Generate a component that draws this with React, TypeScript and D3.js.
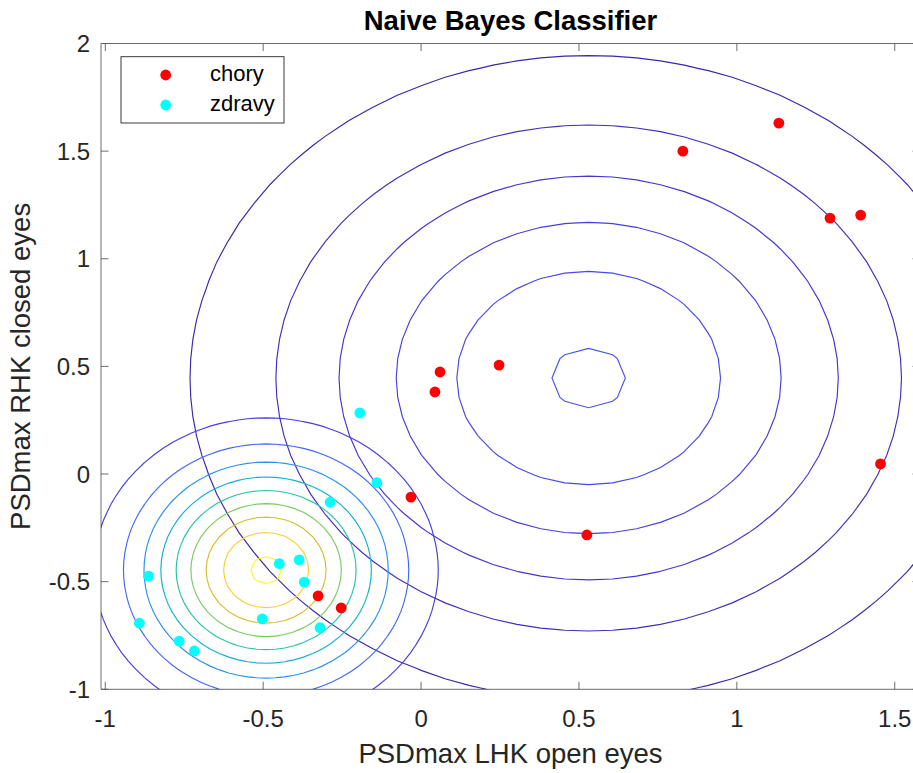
import React from 'react';
import * as d3 from 'd3';

// ---- data ----
const classNames = ['chory', 'zdravy'];
const classColors = ['#ff0000', '#00ffff'];

const choryX = [0.829, 1.133, 1.295, 1.392, 0.247, 0.06, 0.044, -0.032, 0.525, 1.455, -0.326, -0.253];
const choryY = [1.5, 1.63, 1.189, 1.203, 0.506, 0.474, 0.381, -0.107, -0.283, 0.047, -0.566, -0.622];

const zdravyX = [-0.194, -0.14, -0.288, -0.449, -0.386, -0.37, -0.863, -0.503, -0.32, -0.892, -0.766, -0.718];
const zdravyY = [0.284, -0.04, -0.131, -0.416, -0.399, -0.502, -0.474, -0.673, -0.714, -0.693, -0.776, -0.822];

const xTicks = [-1, -0.5, 0, 0.5, 1, 1.5];
const yTicks = [-1, -0.5, 0, 0.5, 1, 1.5, 2];
const xLim = [-1.0136, 1.58];
const yLim = [-1, 2];

const titleText = 'Naive Bayes Classifier';
const xLabelText = 'PSDmax LHK open eyes';
const yLabelText = 'PSDmax RHK closed eyes';

// parula colormap stops
const PARULA = [
  [0.2422, 0.1504, 0.6603], [0.2706, 0.2147, 0.8364], [0.2813, 0.3006, 0.9414],
  [0.2699, 0.3892, 0.9906], [0.1963, 0.4847, 0.9892], [0.1687, 0.5703, 0.9359],
  [0.1248, 0.6459, 0.8883], [0.0297, 0.7082, 0.8163], [0.0964, 0.75, 0.712],
  [0.2161, 0.7843, 0.5923], [0.3909, 0.8029, 0.4354], [0.6174, 0.7876, 0.2612],
  [0.8203, 0.7498, 0.1535], [0.9728, 0.7298, 0.2394], [0.9892, 0.8136, 0.1885],
  [0.9597, 0.9135, 0.1423], [0.9769, 0.9839, 0.0805],
];
const PARULA_POS = [0, 4, 8, 12, 16, 20, 24, 28, 32, 36, 40, 44, 48, 52, 56, 60, 63].map((v) => v / 63);

function parula(t: number) {
  const tt = Math.max(0, Math.min(1, t));
  let k = 0;
  while (k < PARULA_POS.length - 2 && tt > PARULA_POS[k + 1]) k++;
  const a = PARULA[k], b = PARULA[k + 1];
  const f = (tt - PARULA_POS[k]) / (PARULA_POS[k + 1] - PARULA_POS[k]);
  const c = a.map((v, i) => Math.round(255 * (v + (b[i] - v) * f)));
  return `rgb(${c[0]},${c[1]},${c[2]})`;
}

function fit(xs: number[], ys: number[]) {
  const mx = d3.mean(xs)!, my = d3.mean(ys)!;
  const sx = d3.deviation(xs)!, sy = d3.deviation(ys)!;
  return { mx, my, sx, sy };
}

export default function App() {
  const W = 913, H = 773;
  const L = 101, R = 920, T = 43.5, B = 689.3;
  const x = d3.scaleLinear().domain(xLim).range([L, R]);
  const y = d3.scaleLinear().domain(yLim).range([B, T]);

  const classes = [
    { xs: choryX, ys: choryY },
    { xs: zdravyX, ys: zdravyY },
  ];

  const N = 71;
  const contourSets = classes.map(({ xs, ys }) => {
    const g = fit(xs, ys);
    const x0 = g.mx - 4 * g.sx, y0 = g.my - 4 * g.sy;
    const dx = (8 * g.sx) / (N - 1), dy = (8 * g.sy) / (N - 1);
    const values = new Array(N * N);
    for (let j = 0; j < N; j++) {
      for (let i = 0; i < N; i++) {
        const px = x0 + i * dx, py = y0 + j * dy;
        const zx = (px - g.mx) / g.sx, zy = (py - g.my) / g.sy;
        values[i + j * N] = Math.exp(-0.5 * (zx * zx + zy * zy)) / (2 * Math.PI * g.sx * g.sy);
      }
    }
    const zmax = d3.max(values) as number;
    const levels = d3.ticks(0, zmax, 7).filter((v) => v > 0 && v < zmax);
    const cs = d3.contours().size([N, N]).thresholds(levels)(values);
    return cs.map((c) => ({
      value: c.value,
      d: c.coordinates
        .map((poly) =>
          poly
            .map(
              (ring) =>
                'M' +
                ring
                  .map(([cx, cy]) => `${x(x0 + (cx - 0.5) * dx).toFixed(2)},${y(y0 + (cy - 0.5) * dy).toFixed(2)}`)
                  .join('L') +
                'Z'
            )
            .join('')
        )
        .join(''),
    }));
  });

  const allLevels = contourSets.flat().map((c) => c.value);
  const cmin = d3.min(allLevels) as number, cmax = d3.max(allLevels) as number;
  const col = (v: number) => parula((v - cmin) / (cmax - cmin));

  const axisColor = '#262626';
  const font = '"Liberation Sans", Arial, Helvetica, sans-serif';
  const tickLen = 7.5;

  return (
    <div style={{ position: 'absolute', left: 0, top: 0 }}>
      <svg width={W} height={H} style={{ display: 'block' }}>
        <defs>
          <clipPath id="plotclip">
            <rect x={L} y={T} width={R - L} height={B - T} />
          </clipPath>
        </defs>
        <rect x={0} y={0} width={W} height={H} fill="#ffffff" />
        <rect x={L} y={T} width={R - L} height={B - T} fill="#ffffff" />

        <g clipPath="url(#plotclip)">
          {contourSets.map((set, si) =>
            set.map((c, ci) => (
              <path key={`c${si}-${ci}`} d={c.d} fill="none" stroke={col(c.value)} strokeWidth={1.15} />
            ))
          )}
          {classes.map((cl, ci) =>
            cl.xs.map((vx, i) => (
              <circle key={`p${ci}-${i}`} cx={x(vx)} cy={y(cl.ys[i])} r={5.4} fill={classColors[ci]} />
            ))
          )}
        </g>

        {/* axes box */}
        <g stroke={axisColor} strokeWidth={0.9} fill="none" opacity={0.75}>
          <line x1={L} x2={R} y1={B} y2={B} />
          <line x1={L} x2={R} y1={T} y2={T} />
          <line x1={L} x2={L} y1={T} y2={B} />
          <line x1={R} x2={R} y1={T} y2={B} />
          {xTicks.map((t) => (
            <g key={`xt${t}`}>
              <line x1={x(t)} x2={x(t)} y1={B} y2={B - tickLen} />
              <line x1={x(t)} x2={x(t)} y1={T} y2={T + tickLen} />
            </g>
          ))}
          {yTicks.map((t) => (
            <g key={`yt${t}`}>
              <line x1={L} x2={L + tickLen} y1={y(t)} y2={y(t)} />
              <line x1={R} x2={R - tickLen} y1={y(t)} y2={y(t)} />
            </g>
          ))}
        </g>

        {/* tick labels */}
        <g fontFamily={font} fontSize={24} fill={axisColor}>
          {xTicks.map((t) => (
            <text key={`xl${t}`} x={x(t)} y={727} textAnchor="middle">
              {String(t)}
            </text>
          ))}
          {yTicks.map((t) => (
            <text key={`yl${t}`} x={90} y={y(t)} dy="0.36em" textAnchor="end">
              {String(t)}
            </text>
          ))}
        </g>

        {/* labels */}
        <text x={(L + R) / 2} y={763} textAnchor="middle" fontFamily={font} fontSize={27.5} fill={axisColor}>
          {xLabelText}
        </text>
        <text
          transform={`translate(30,${(T + B) / 2}) rotate(-90)`}
          textAnchor="middle"
          fontFamily={font}
          fontSize={27.5}
          fill={axisColor}
        >
          {yLabelText}
        </text>
        <text x={(L + R) / 2} y={30} textAnchor="middle" fontFamily={font} fontSize={27.5} fontWeight="bold" fill="#000">
          {titleText}
        </text>

        {/* legend */}
        <g>
          <rect x={121} y={56.7} width={163} height={66.3} fill="#ffffff" stroke={axisColor} strokeWidth={0.9} />
          {classNames.map((nm, i) => (
            <g key={nm}>
              <circle cx={165.7} cy={75 + i * 30} r={5.4} fill={classColors[i]} />
              <text x={210} y={75 + i * 30} dy="0.27em" fontFamily={font} fontSize={22} fill="#000">
                {nm}
              </text>
            </g>
          ))}
        </g>
      </svg>
    </div>
  );
}
